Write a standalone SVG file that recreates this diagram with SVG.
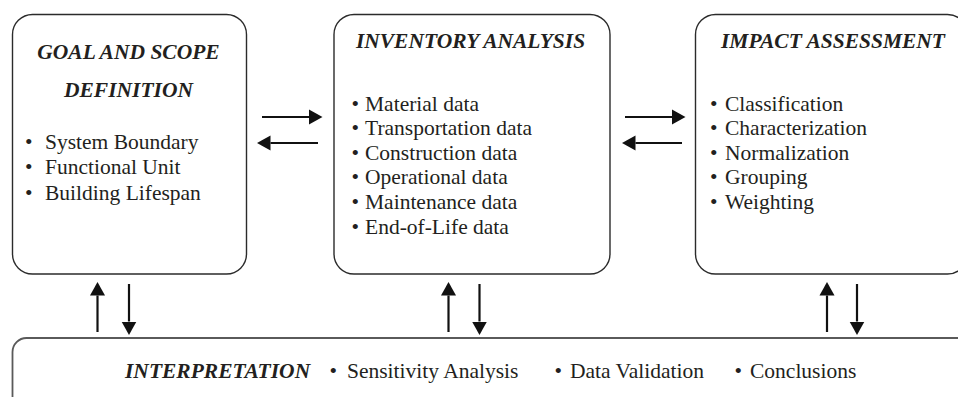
<svg xmlns="http://www.w3.org/2000/svg" width="958" height="397" viewBox="0 0 958 397">
<defs>
<style>
.box{fill:#fff;stroke:#2b2b2b;stroke-width:1.4}
.bbox{fill:#fff;stroke:#5a5a5a;stroke-width:1.8}
.t{font-family:"Liberation Serif","Times New Roman",serif;font-size:21.5px;fill:#231f20}
.h{font-weight:bold;font-style:italic}
.c{stroke:#111;stroke-width:2.2;fill:none;marker-end:url(#ah)}
</style>
<marker id="ah" markerUnits="userSpaceOnUse" markerWidth="14" markerHeight="16" refX="0" refY="7.5" orient="auto" viewBox="0 0 14 15">
<path d="M0,0 L13.5,7.5 L0,15 Z" fill="#111"/>
</marker>
</defs>
<rect width="958" height="397" fill="#fff"/>

<g id="goal">
<rect class="box" x="12.5" y="14.5" width="234" height="259.5" rx="20" ry="20"/>
<text class="t h" x="128.5" y="58.5" text-anchor="middle">GOAL AND SCOPE</text>
<text class="t h" x="128.5" y="97" text-anchor="middle">DEFINITION</text>
<text class="t"><tspan x="25" y="148.5">•</tspan><tspan x="45" y="148.5">System Boundary</tspan></text>
<text class="t"><tspan x="25" y="174">•</tspan><tspan x="45" y="174">Functional Unit</tspan></text>
<text class="t"><tspan x="25" y="199.5">•</tspan><tspan x="45" y="199.5">Building Lifespan</tspan></text>
</g>

<g id="inventory">
<rect class="box" x="334" y="14.5" width="276" height="259.5" rx="20" ry="20"/>
<text class="t h" x="470.5" y="48" text-anchor="middle">INVENTORY ANALYSIS</text>
<text class="t"><tspan x="351.5" y="110.5">•</tspan><tspan x="365" y="110.5">Material data</tspan></text>
<text class="t"><tspan x="351.5" y="135">•</tspan><tspan x="365" y="135">Transportation data</tspan></text>
<text class="t"><tspan x="351.5" y="159.7">•</tspan><tspan x="365" y="159.7">Construction data</tspan></text>
<text class="t"><tspan x="351.5" y="184.3">•</tspan><tspan x="365" y="184.3">Operational data</tspan></text>
<text class="t"><tspan x="351.5" y="209">•</tspan><tspan x="365" y="209">Maintenance data</tspan></text>
<text class="t"><tspan x="351.5" y="233.5">•</tspan><tspan x="365" y="233.5">End-of-Life data</tspan></text>
</g>

<g id="impact">
<rect class="box" x="695.5" y="14.5" width="272" height="259.5" rx="20" ry="20"/>
<text class="t h" x="833" y="48" text-anchor="middle">IMPACT ASSESSMENT</text>
<text class="t"><tspan x="710" y="110.5">•</tspan><tspan x="725" y="110.5">Classification</tspan></text>
<text class="t"><tspan x="710" y="135">•</tspan><tspan x="725" y="135">Characterization</tspan></text>
<text class="t"><tspan x="710" y="159.5">•</tspan><tspan x="725" y="159.5">Normalization</tspan></text>
<text class="t"><tspan x="710" y="184">•</tspan><tspan x="725" y="184">Grouping</tspan></text>
<text class="t"><tspan x="710" y="208.5">•</tspan><tspan x="725" y="208.5">Weighting</tspan></text>
</g>

<g id="interpretation">
<rect class="bbox" x="12.5" y="338" width="980" height="100" rx="14" ry="14"/>
<text class="t h" x="125" y="378">INTERPRETATION</text>
<text class="t"><tspan x="329.5" y="378">•</tspan><tspan x="347" y="378">Sensitivity Analysis</tspan></text>
<text class="t"><tspan x="554.5" y="378">•</tspan><tspan x="570" y="378">Data Validation</tspan></text>
<text class="t"><tspan x="734.5" y="378">•</tspan><tspan x="750" y="378">Conclusions</tspan></text>
</g>

<g id="connectors">
<line class="c" x1="262" y1="117" x2="309" y2="117"/>
<line class="c" x1="318" y1="143" x2="270.5" y2="143"/>
<line class="c" x1="625" y1="117" x2="672" y2="117"/>
<line class="c" x1="682" y1="143" x2="635.5" y2="143"/>
<line class="c" x1="97.5" y1="332" x2="97.5" y2="295.5"/>
<line class="c" x1="129" y1="284" x2="129" y2="321.5"/>
<line class="c" x1="448.5" y1="332" x2="448.5" y2="295.5"/>
<line class="c" x1="479.5" y1="284" x2="479.5" y2="321.5"/>
<line class="c" x1="827" y1="332" x2="827" y2="295.5"/>
<line class="c" x1="857" y1="284" x2="857" y2="321.5"/>
</g>
</svg>
